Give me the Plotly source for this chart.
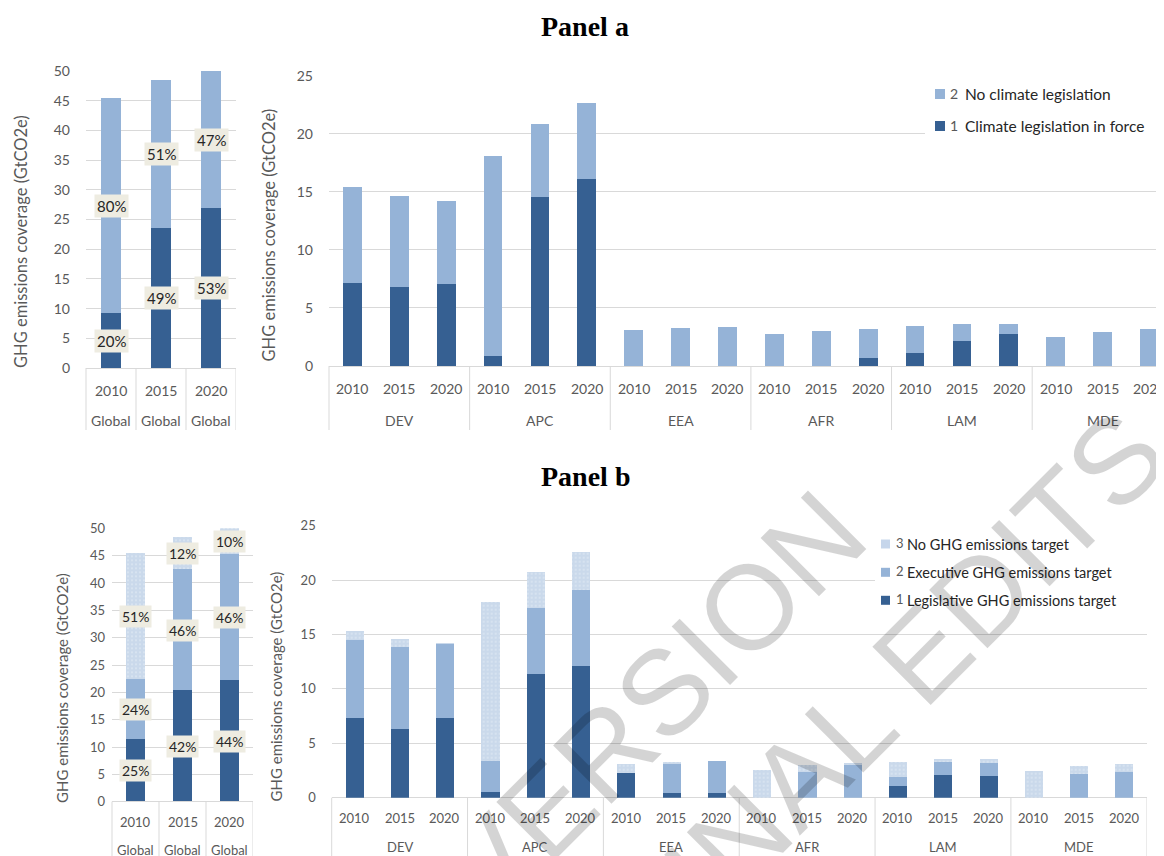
import plotly.graph_objects as go

W, H = 1164, 856
OFF = 8  # page body margin offset

# ---------------- data ----------------
groups = ["DEV", "APC", "EEA", "AFR", "LAM", "MDE"]
years = ["2010", "2015", "2020"]
global_cat = "Global"

# Panel a
a_series = ["Climate legislation in force", "No climate legislation"]
a_global_leg = [9.26, 23.5, 26.9]
a_global_no = [36.14, 25.0, 23.1]
a_global_leg_lbl = ["20%", "49%", "53%"]
a_global_no_lbl = ["80%", "51%", "47%"]
a_reg_leg = [7.2, 6.83, 7.12, 0.86, 14.6, 16.13, 0, 0, 0, 0, 0, 0.72, 1.18, 2.15, 2.76, 0, 0, 0]
a_reg_no = [8.25, 7.84, 7.12, 17.24, 6.24, 6.57, 3.16, 3.3, 3.39, 2.76, 3.01, 2.52, 2.26, 1.52, 0.91, 2.53, 2.96, 3.22]

# Panel b
b_series = ["Legislative GHG emissions target", "Executive GHG emissions target", "No GHG emissions target"]
b_global_leg = [11.46, 20.3, 22.2]
b_global_exec = [10.94, 22.2, 23.1]
b_global_none = [23.0, 5.9, 4.7]
b_global_leg_lbl = ["25%", "42%", "44%"]
b_global_exec_lbl = ["24%", "46%", "46%"]
b_global_none_lbl = ["51%", "12%", "10%"]
b_reg_leg = [7.39, 6.34, 7.33, 0.59, 11.4, 12.17, 2.27, 0.45, 0.46, 0, 0, 0, 1.08, 2.09, 2.03, 0, 0, 0]
b_reg_exec = [7.11, 7.54, 6.86, 2.85, 6.1, 6.95, 0, 2.75, 2.91, 0, 2.4, 3.05, 0.86, 1.22, 1.22, 0, 2.18, 2.39]
b_reg_none = [0.85, 0.71, 0.05, 14.56, 3.27, 3.48, 0.83, 0.05, 0, 2.6, 0.6, 0.11, 1.38, 0.31, 0.31, 2.45, 0.73, 0.77]

# ---------------- style ----------------
DARK = "#366092"
LIGHT = "#95b3d7"
GRID = "#d9d9d9"
TICK = "#595959"
TXT = "#262626"
FONT = "Lato"


def px(x):
    return (x - OFF) / W


def py(y):
    return 1 - (y - OFF) / H


fig = go.Figure()
reg_years = [y for g in groups for y in years]
reg_idx = list(range(len(reg_years)))
glob_idx = list(range(len(years)))


def bar(x, y, ax, color, pattern=False):
    kw = dict(x=x, y=y, xaxis="x" + ax, yaxis="y" + ax, width=0.4,
              showlegend=False, hoverinfo="skip",
              marker=dict(color=color, line=dict(width=0)))
    if pattern:
        kw["marker"] = dict(color="white", line=dict(width=0),
                            pattern=dict(shape=".", fgcolor=LIGHT, bgcolor="white",
                                         size=4, solidity=0.85))
    fig.add_trace(go.Bar(**kw))


# panel a
bar(glob_idx, a_global_leg, "", DARK)
bar(glob_idx, a_global_no, "", LIGHT)
bar(reg_idx, a_reg_leg, "2", DARK)
bar(reg_idx, a_reg_no, "2", LIGHT)
# panel b
bar(glob_idx, b_global_leg, "3", DARK)
bar(glob_idx, b_global_exec, "3", LIGHT)
bar(glob_idx, b_global_none, "3", None, pattern=True)
bar(reg_idx, b_reg_leg, "4", DARK)
bar(reg_idx, b_reg_exec, "4", LIGHT)
bar(reg_idx, b_reg_none, "4", None, pattern=True)

annotations = []
shapes = []

# ---- axes geometry (reference pixels) ----
axes_geo = {
    # name: (x0, x1, y_zero, y_top, ymax, slot_px)
    "": (86, 236, 368, 71, 50, 50),
    "2": (329, W + OFF, 366, 75.7, 25, 46.88),
    "3": (112, 253, 801.7, 528.3, 50, 47),
    "4": (331.7, 1146.7, 797.7, 525.7, 25, 45.28),
}
standoff = {"": 15, "2": 15, "3": 6, "4": 15}
tsize = {"": 14, "2": 14, "3": 13, "4": 13}
layout_axes = {}
for k, (x0, x1, y0, y1, ymax, slot) in axes_geo.items():
    xmax = -0.5 + (x1 - x0) / slot
    layout_axes["xaxis" + k] = dict(domain=[px(x0), min(1, px(x1))], range=[-0.5, xmax],
                                    anchor="y" + k, showgrid=False, zeroline=False,
                                    showticklabels=False, showline=False, fixedrange=True,
                                    automargin=False)
    layout_axes["yaxis" + k] = dict(domain=[py(y0), py(y1)], range=[0, ymax], dtick=5,
                                    anchor="x" + k, showgrid=True, gridcolor=GRID, gridwidth=1,
                                    zeroline=True, zerolinecolor=GRID, zerolinewidth=1,
                                    ticks="", ticklabelstandoff=standoff[k],
                                    tickfont=dict(family=FONT, size=tsize[k], color=TICK),
                                    showline=False, fixedrange=True, automargin=False)

# ---- category labels and dividers ----
def cat_labels(ax, idx, labels, ypix, size):
    for i, lab in zip(idx, labels):
        annotations.append(dict(x=i, y=py(ypix), xref="x" + ax, yref="paper", text=lab,
                                showarrow=False, xanchor="center", yanchor="middle",
                                font=dict(family=FONT, size=size, color=TICK)))


def divider(ax, xpos, ytop, ybot, domain=False):
    shapes.append(dict(type="line", xref=("x" + ax + " domain") if domain else "x" + ax,
                       yref="paper", x0=xpos, x1=xpos, y0=py(ytop), y1=py(ybot),
                       line=dict(color=GRID, width=1), layer="above"))


# A-left
cat_labels("", glob_idx, years, 390, 14)
cat_labels("", glob_idx, [global_cat] * 3, 421, 14)
divider("", 0, 368, 430, domain=True)
for i in glob_idx:
    divider("", i + 0.5, 368, 430)
# A-right
cat_labels("2", reg_idx, reg_years, 388, 14)
cat_labels("2", [3 * g + 1 for g in range(len(groups))], groups, 420, 14)
divider("2", 0, 366, 430, domain=True)
for g in range(1, len(groups)):
    divider("2", 3 * g - 0.5, 366, 430)
# B-left
cat_labels("3", glob_idx, years, 822, 13)
cat_labels("3", glob_idx, [global_cat] * 3, 850, 13)
divider("3", 0, 801.7, 870, domain=True)
for i in glob_idx:
    divider("3", i + 0.5, 801.7, 870)
# B-right
cat_labels("4", reg_idx, reg_years, 818, 13)
cat_labels("4", [3 * g + 1 for g in range(len(groups))], groups, 847, 13)
divider("4", 0, 797.7, 870, domain=True)
for g in range(1, len(groups) + 1):
    divider("4", 3 * g - 0.5, 797.7, 870)

# ---- percent data labels (segment centers) ----
def seg_labels(ax, stacks, labels, size):
    base = [0] * len(stacks[0])
    for vals, labs in zip(stacks, labels):
        for i, (v, lab) in enumerate(zip(vals, labs)):
            annotations.append(dict(x=i, y=base[i] + v / 2, xref="x" + ax, yref="y" + ax,
                                    text=lab, showarrow=False, bgcolor="#eeece1",
                                    borderpad=2, font=dict(family=FONT, size=size, color=TXT)))
            base[i] += v


seg_labels("", [a_global_leg, a_global_no], [a_global_leg_lbl, a_global_no_lbl], 15)
seg_labels("3", [b_global_leg, b_global_exec, b_global_none],
           [b_global_leg_lbl, b_global_exec_lbl, b_global_none_lbl], 14)

# ---- y titles ----
ytitle = "GHG emissions coverage (GtCO2e)"
for xp, yp, sz in [(21, 242, 16.5), (268.5, 235, 16.5), (62, 688, 15), (275.5, 687, 15)]:
    annotations.append(dict(x=px(xp), y=py(yp), xref="paper", yref="paper", text=ytitle,
                            textangle=-90, showarrow=False, xanchor="center", yanchor="middle",
                            font=dict(family=FONT, size=sz, color=TICK)))

# ---- panel titles ----
for t, yp in [("Panel a", 27), ("Panel b", 476)]:
    annotations.append(dict(x=px(585), y=py(yp), xref="paper", yref="paper", text="<b>" + t + "</b>",
                            showarrow=False, xanchor="center", yanchor="middle",
                            font=dict(family="Liberation Serif", size=28, color="black")))

# ---- legends (white box + squares + text) ----
def legend(box, rows, sq_x, sq_size, num_x, txt_x, tsz, nsz):
    bx0, by0, bx1, by1 = box
    shapes.append(dict(type="rect", xref="paper", yref="paper", x0=px(bx0), x1=px(bx1),
                       y0=py(by1), y1=py(by0), fillcolor="white", line=dict(width=0), layer="above"))
    for ycen, color, num, name in rows:
        shapes.append(dict(type="rect", xref="paper", yref="paper", x0=px(sq_x), x1=px(sq_x + sq_size),
                           y0=py(ycen + sq_size / 2), y1=py(ycen - sq_size / 2),
                           fillcolor=color, line=dict(width=0), layer="above"))
        annotations.append(dict(x=px(num_x), y=py(ycen - 1), xref="paper", yref="paper", text=num,
                                showarrow=False, xanchor="left", yanchor="middle",
                                font=dict(family=FONT, size=nsz, color=TICK)))
        annotations.append(dict(x=px(txt_x), y=py(ycen), xref="paper", yref="paper", text=name,
                                showarrow=False, xanchor="left", yanchor="middle",
                                font=dict(family=FONT, size=tsz, color=TXT)))


legend((925, 68, W + OFF, 148),
       [(94, LIGHT, "2", a_series[1]), (126, DARK, "1", a_series[0])],
       935, 10, 948, 963, 15.5, 14)
legend((875, 528, 1147, 618),
       [(544, "#c6d6eb", "3", b_series[2]), (572.3, LIGHT, "2", b_series[1]),
        (600.3, DARK, "1", b_series[0])],
       881, 9, 894, 905, 14.5, 13)

# ---- watermark ----
annotations.append(dict(x=px(560), y=py(906), xref="paper", yref="paper",
                        text="ACCEPTED VERSION<br>SUBJECT TO FINAL EDITS", align="left",
                        textangle=-45, showarrow=False, xanchor="center", yanchor="middle",
                        font=dict(family="Liberation Sans", size=120, color="rgba(0,0,0,0.17)")))

fig.update_layout(width=W, height=H, margin=dict(l=0, r=0, t=0, b=0, pad=0, autoexpand=False),
                  paper_bgcolor="white", plot_bgcolor="white", barmode="stack",
                  bargap=0, showlegend=False, annotations=annotations, shapes=shapes,
                  **layout_axes)

fig.write_html("out.html")
